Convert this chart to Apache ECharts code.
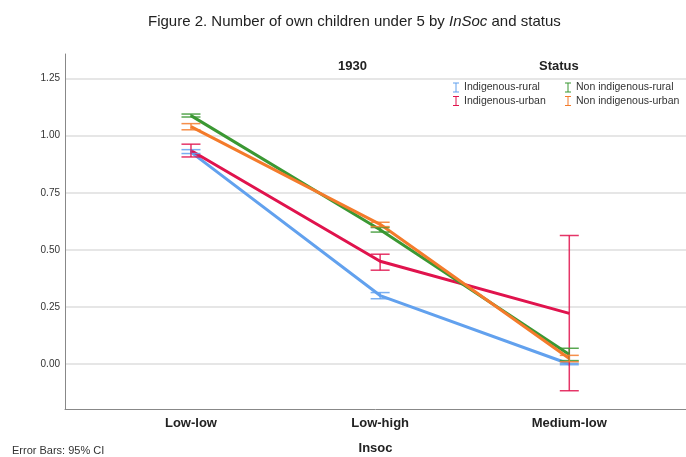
<!DOCTYPE html>
<html>
<head>
<meta charset="utf-8">
<script src="https://cdn.jsdelivr.net/npm/echarts@6/dist/echarts.min.js"></script>
<style>
html,body{margin:0;padding:0;background:#fff;}
#chart{width:686px;height:457px;}
</style>
</head>
<body>
<div id="chart"></div>
<script>
// ---- data ----
const categories = ['Low-low', 'Low-high', 'Medium-low'];
const seriesNames = ['Indigenous-rural', 'Indigenous-urban', 'Non indigenous-rural', 'Non indigenous-urban'];
const meanIndRural = [0.928, 0.30, 0.00];
const meanIndUrban = [0.935, 0.45, 0.222];
const meanNonRural = [1.088, 0.588, 0.042];
const meanNonUrban = [1.04, 0.612, 0.024];
const lowIndRural = [0.922, 0.286, -0.003];
const highIndRural = [0.939, 0.313, 0.003];
const lowIndUrban = [0.907, 0.411, -0.117];
const highIndUrban = [0.963, 0.481, 0.563];
const lowNonRural = [1.082, 0.578, 0.015];
const highNonRural = [1.095, 0.598, 0.069];
const lowNonUrban = [1.026, 0.602, 0.010];
const highNonUrban = [1.053, 0.621, 0.038];
const yTickValues = [0, 0.25, 0.5, 0.75, 1.0, 1.25];

const colors = ['#62a1ee', '#e0134d', '#3b9833', '#f47b2b'];
const means = [meanIndRural, meanIndUrban, meanNonRural, meanNonUrban];
const lows = [lowIndRural, lowIndUrban, lowNonRural, lowNonUrban];
const highs = [highIndRural, highIndUrban, highNonRural, highNonUrban];

const FONT = "'Liberation Sans', Arial, sans-serif";
const iconI = 'path://M0,0h6v1h-2.5v8h2.5v1h-6v-1h2.5v-8h-2.5z';

const chart = echarts.init(document.getElementById('chart'), null, {renderer: 'canvas'});

const series = [];
seriesNames.forEach((name, i) => {
  series.push({
    name: name,
    type: 'line',
    data: means[i].map((v, k) => [k, v]),
    symbol: 'none',
    lineStyle: {width: 3, color: colors[i]},
    itemStyle: {color: colors[i]},
    z: 3 + i,
    animation: false
  });
});
seriesNames.forEach((name, i) => {
  series.push({
    type: 'custom',
    data: lows[i].map((lo, k) => [k, lo, highs[i][k]]),
    z: 10 + i,
    animation: false,
    silent: true,
    renderItem: function (params, api) {
      const x = api.value(0), lo = api.value(1), hi = api.value(2);
      const p1 = api.coord([x, hi]);
      const p2 = api.coord([x, lo]);
      const hw = 9.5;
      const st = {stroke: colors[i], lineWidth: 1.5, opacity: 0.85};
      return {
        type: 'group',
        children: [
          {type: 'line', shape: {x1: p1[0], y1: p1[1], x2: p2[0], y2: p2[1]}, style: st},
          {type: 'line', shape: {x1: p1[0] - hw, y1: p1[1], x2: p1[0] + hw, y2: p1[1]}, style: st},
          {type: 'line', shape: {x1: p2[0] - hw, y1: p2[1], x2: p2[0] + hw, y2: p2[1]}, style: st}
        ]
      };
    }
  });
});

const legendText = {fontFamily: FONT, fontSize: 10.5, color: '#333'};
const option = {
  backgroundColor: '#fff',
  animation: false,
  title: {
    left: 143,
    top: 9,
    text: '{a|Figure 2. Number of own children under 5 by }{b|InSoc}{a| and status}',
    textStyle: {
      fontWeight: 'normal',
      rich: {
        a: {fontFamily: FONT, fontSize: 15, color: '#222', fontWeight: 'normal'},
        b: {fontFamily: FONT, fontSize: 15, color: '#222', fontStyle: 'italic', fontWeight: 'normal'}
      }
    }
  },
  legend: [
    {
      data: [{name: seriesNames[0], icon: iconI}, {name: seriesNames[1], icon: iconI}],
      orient: 'vertical', left: 453, top: 82, padding: 0, itemGap: 2.5,
      itemWidth: 6, itemHeight: 10, textStyle: legendText, selectedMode: false
    },
    {
      data: [{name: seriesNames[2], icon: iconI}, {name: seriesNames[3], icon: iconI}],
      orient: 'vertical', left: 565, top: 82, padding: 0, itemGap: 2.5,
      itemWidth: 6, itemHeight: 10, textStyle: legendText, selectedMode: false
    }
  ],
  graphic: [
    {type: 'text', left: 338, top: 60, style: {text: '1930', font: "bold 13px " + FONT, fill: '#222'}},
    {type: 'text', left: 539, top: 60, style: {text: 'Status', font: "bold 13px " + FONT, fill: '#222'}},
    {type: 'text', left: 12, top: 445, style: {text: 'Error Bars: 95% CI', font: "11px " + FONT, fill: '#333'}}
  ],
  grid: {left: 65, top: 54, right: 0, bottom: 48, containLabel: false, outerBoundsMode: 'none'},
  xAxis: {
    type: 'value',
    min: -0.666,
    max: 2.617,
    name: 'Insoc',
    nameLocation: 'middle',
    nameGap: 33,
    nameTextStyle: {fontFamily: FONT, fontSize: 13, fontWeight: 'bold', color: '#222'},
    axisLine: {show: true, onZero: false, lineStyle: {color: '#888', width: 1}},
    axisTick: {show: false, customValues: [0, 1, 2]},
    splitLine: {show: false},
    axisLabel: {
      customValues: [0, 1, 2],
      formatter: v => categories[Math.round(v)],
      fontFamily: FONT, fontSize: 13, fontWeight: 'bold', color: '#222', margin: 8
    }
  },
  yAxis: {
    type: 'value',
    min: -0.197,
    max: 1.358,
    axisLine: {show: true, onZero: false, lineStyle: {color: '#888', width: 1}},
    axisTick: {show: false, customValues: yTickValues},
    splitLine: {show: true, lineStyle: {color: '#dedede', width: 1.5}},
    axisLabel: {
      customValues: yTickValues,
      formatter: v => v.toFixed(2),
      fontFamily: FONT, fontSize: 10, color: '#333', margin: 5
    }
  },
  series: series
};
chart.setOption(option);
</script>
</body>
</html>
